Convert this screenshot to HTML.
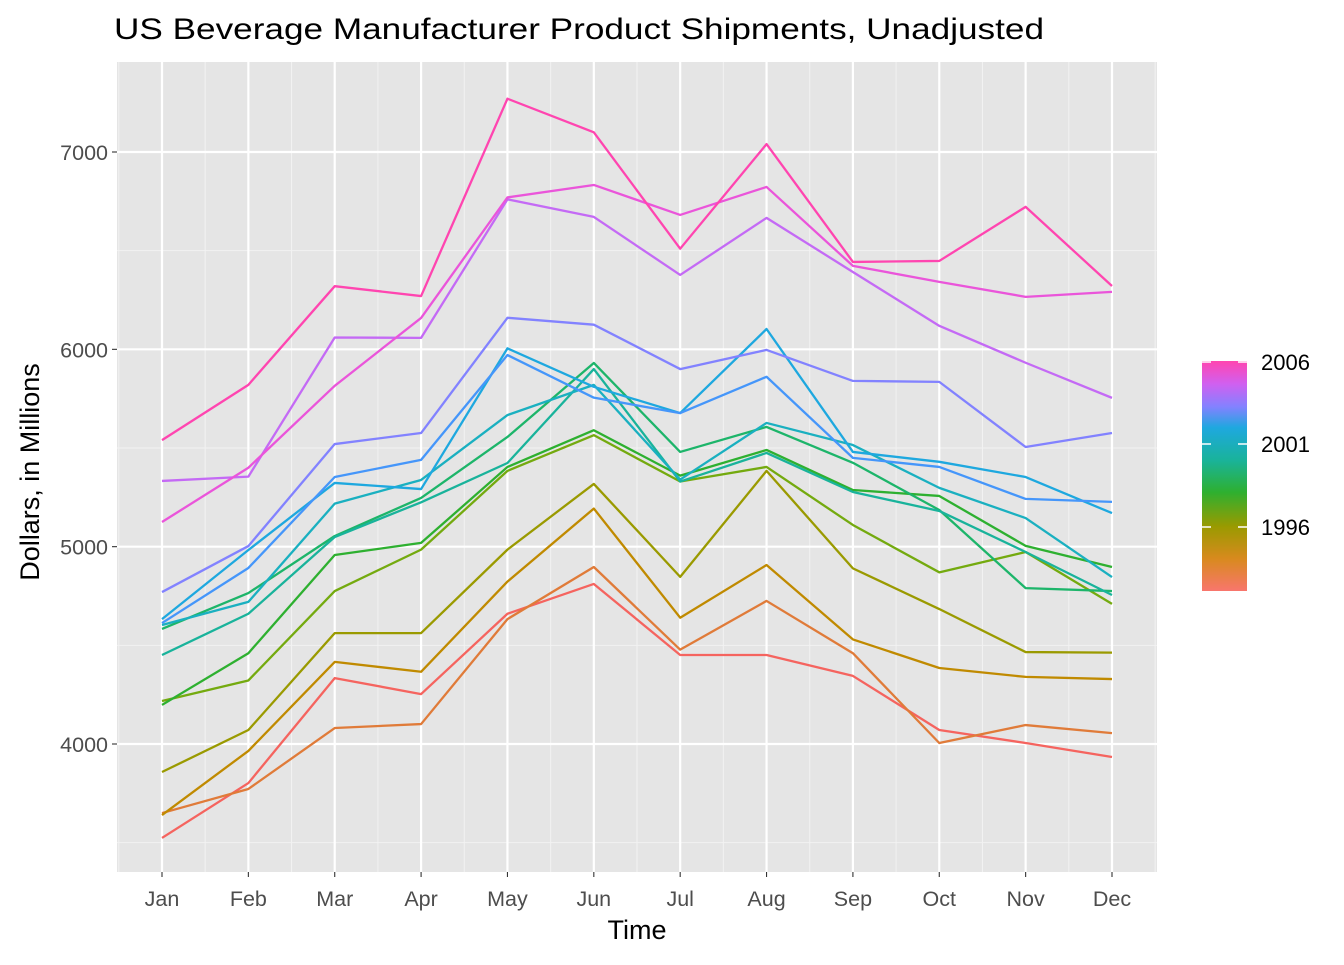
<!DOCTYPE html>
<html><head><meta charset="utf-8"><style>
body{margin:0;background:#fff;font-family:"Liberation Sans",Arial,sans-serif}
svg text{font-family:"Liberation Sans",Arial,sans-serif}
</style></head><body>
<svg id="chart" width="1344" height="960" xmlns="http://www.w3.org/2000/svg">
<rect width="1344" height="960" fill="#fff"/>
<text x="114" y="39" font-size="29.5" fill="#000" textLength="930" lengthAdjust="spacingAndGlyphs">US Beverage Manufacturer Product Shipments, Unadjusted</text>
<rect x="117" y="62" width="1040" height="810" fill="#e5e5e5"/>
<g id="grid"></g>
<g id="lines"></g>
<g id="axes"></g>
<text x="637" y="939" font-size="27" text-anchor="middle">Time</text>
<text transform="translate(39,472) rotate(-90)" font-size="27" text-anchor="middle">Dollars, in Millions</text>
<defs><linearGradient id="cb" x1="0" y1="1" x2="0" y2="0">
<stop offset="0" stop-color="#F8766D"/><stop offset="0.14" stop-color="#D88A1E"/><stop offset="0.28" stop-color="#9A9A00"/><stop offset="0.43" stop-color="#2EB030"/><stop offset="0.57" stop-color="#19B39B"/><stop offset="0.71" stop-color="#1EA8DF"/><stop offset="0.8" stop-color="#8282FF"/><stop offset="0.9" stop-color="#D060F0"/><stop offset="1" stop-color="#FF45B0"/></linearGradient></defs>
<rect x="1202" y="361" width="45" height="230" fill="url(#cb)"/>
<g font-size="22" fill="#000">
<text x="1261" y="370">2006</text><text x="1261" y="452">2001</text><text x="1261" y="535">1996</text>
</g>
<g stroke="#fff" stroke-width="1.5"><line x1="1202" y1="362" x2="1211" y2="362"/><line x1="1238" y1="362" x2="1247" y2="362"/><line x1="1202" y1="444" x2="1211" y2="444"/><line x1="1238" y1="444" x2="1247" y2="444"/><line x1="1202" y1="527" x2="1211" y2="527"/><line x1="1238" y1="527" x2="1247" y2="527"/></g>
</svg>
<script>
const months=["Jan","Feb","Mar","Apr","May","Jun","Jul","Aug","Sep","Oct","Nov","Dec"];
const years=[1992,1993,1994,1995,1996,1997,1998,1999,2000,2001,2002,2003,2004,2005,2006];
const yTicks=[4000,5000,6000,7000];
const v1992=[3524,3802,4334,4253,4660,4811,4451,4451,4345,4071,4005,3934];
const v1993=[3650,3772,4081,4101,4633,4897,4478,4725,4460,4005,4096,4055];
const v1994=[3640,3965,4416,4366,4823,5193,4640,4907,4530,4385,4340,4329];
const v1995=[3858,4071,4562,4562,4985,5318,4847,5384,4890,4684,4466,4463];
const v1996=[4218,4322,4775,4985,5384,5565,5330,5404,5110,4870,4973,4710];
const v1997=[4198,4460,4958,5019,5404,5590,5360,5490,5287,5257,5004,4897];
const v1998=[4583,4765,5054,5247,5556,5931,5480,5607,5425,5186,4790,4775];
const v1999=[4451,4660,5049,5225,5424,5900,5330,5475,5277,5181,4973,4755];
const v2000=[4603,4720,5218,5338,5667,5820,5340,5627,5515,5298,5145,4846];
const v2001=[4633,4983,5323,5292,6005,5810,5677,6103,5480,5430,5353,5170];
const v2002=[4613,4892,5353,5440,5971,5755,5677,5861,5450,5404,5242,5227];
const v2003=[4770,5003,5520,5576,6160,6125,5900,5997,5840,5835,5505,5576];
const v2004=[5333,5355,6060,6058,6760,6671,6377,6666,6392,6119,5932,5754];
const v2005=[5125,5400,5815,6159,6770,6833,6681,6823,6423,6342,6266,6291];
const v2006=[5540,5820,6320,6270,7270,7100,6510,7040,6443,6448,6722,6321];
const series=[v1992,v1993,v1994,v1995,v1996,v1997,v1998,v1999,v2000,v2001,v2002,v2003,v2004,v2005,v2006];
const colors=["#F5645F","#E07B39","#C08A00","#9A9A00","#74AA0F","#2EB030","#1DB56A","#19B39B","#1AB0C0","#1EA8DF","#4596FA","#8282FF","#C46AF5","#EA55DA","#FF45B0"];
const NS="http://www.w3.org/2000/svg";
const X=i=>162+(1112-162)*i/11;
const Y=v=>744-(v-4000)*(744-152)/3000;
function mk(tag,attrs,parent){const e=document.createElementNS(NS,tag);for(const k in attrs)e.setAttribute(k,attrs[k]);parent.appendChild(e);return e;}
const grid=document.getElementById('grid'),lines=document.getElementById('lines'),axes=document.getElementById('axes');
for(let t=3500;t<=7000;t+=1000){const y=Y(t);const l=mk('line',{x1:117,x2:1157,y1:y,y2:y,stroke:'#f2f2f2','stroke-width':1},grid);

}
for(let i=0;i<=12;i++){const x=X(i-0.5);const l=mk('line',{x1:x,x2:x,y1:62,y2:872,stroke:'#f2f2f2','stroke-width':1},grid);

}
yTicks.forEach(t=>{const y=Y(t);const l=mk('line',{x1:117,x2:1157,y1:y,y2:y,stroke:'#fff','stroke-width':2.2},grid);


const tk=mk('line',{x1:112,x2:117,y1:y,y2:y,stroke:'#333','stroke-width':1.1},axes);


const tx=mk('text',{x:108,y:y+8,'font-size':21.5,fill:'#4d4d4d','text-anchor':'end'},axes);tx.textContent=t;

});
months.forEach((m,i)=>{const x=X(i);const l=mk('line',{x1:x,x2:x,y1:62,y2:872,stroke:'#fff','stroke-width':2.2},grid);


const tk=mk('line',{x1:x,x2:x,y1:872,y2:877,stroke:'#333','stroke-width':1.1},axes);


const tx=mk('text',{x:x,y:906,'font-size':21.5,fill:'#4d4d4d','text-anchor':'middle'},axes);tx.textContent=m;

});
series.forEach((s,k)=>{const p=mk('polyline',{points:s.map((v,i)=>X(i)+','+Y(v)).join(' '),fill:'none',stroke:colors[k],'stroke-width':2.3,'stroke-linejoin':'round'},lines);

});
</script>
</body></html>
